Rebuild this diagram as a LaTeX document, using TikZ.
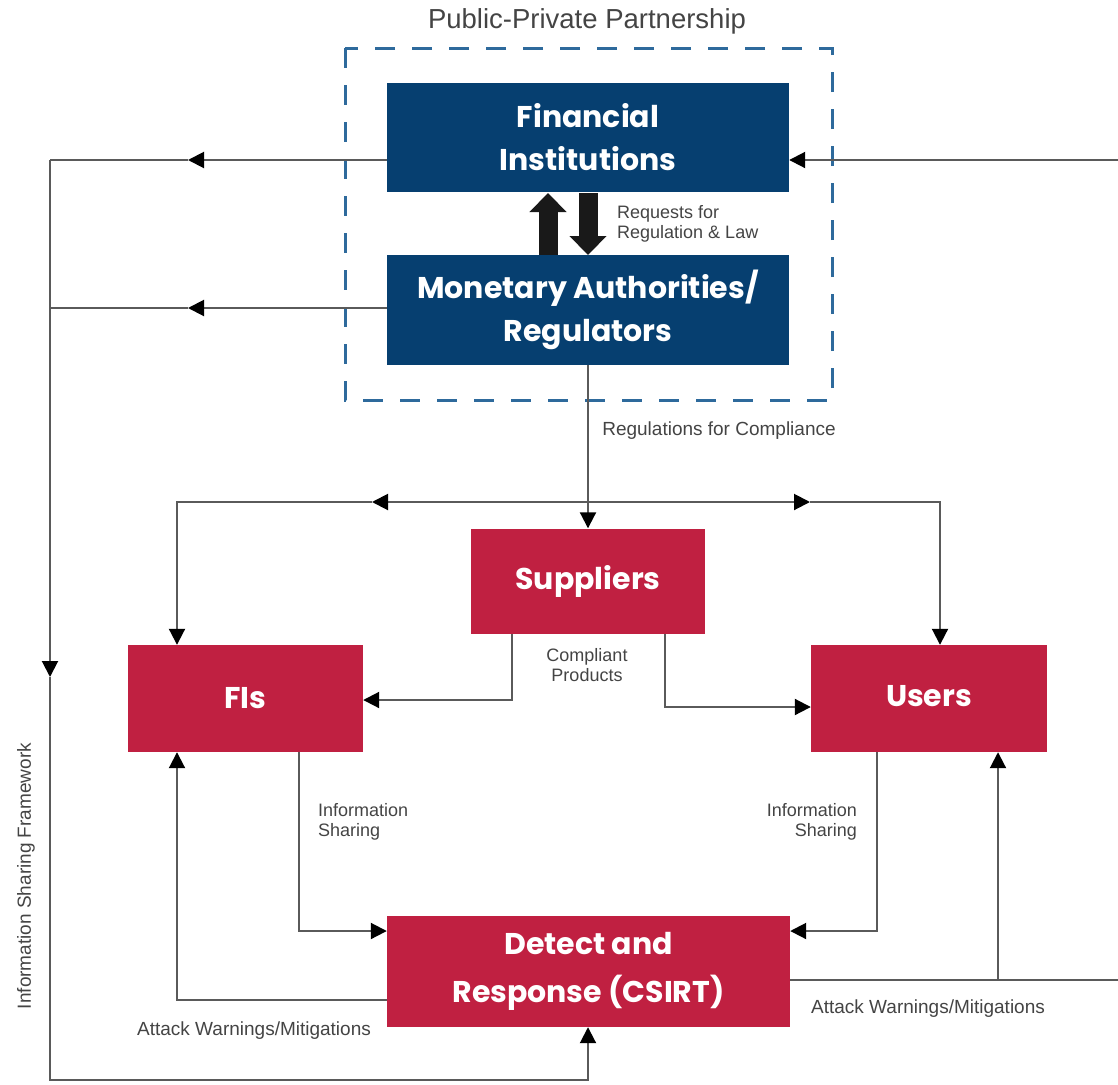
\documentclass[tikz,border=0pt]{standalone}
\usepackage{fontspec}
\setmainfont{Liberation Sans}
\newfontfamily\boxfont{Poppins}
\usetikzlibrary{arrows.meta}
\definecolor{fiblue}{HTML}{063F70}
\definecolor{dashblue}{HTML}{2E6A9C}
\definecolor{boxred}{HTML}{C02041}
\definecolor{linegray}{HTML}{5A5A5A}
\definecolor{txtgray}{HTML}{444444}
\tikzset{
  bluebox/.style={fill=fiblue, text=white, minimum width=402pt, minimum height=110pt, align=center,
    font=\boxfont\bfseries\fontsize{30}{43}\selectfont, inner sep=0pt},
  redbox/.style={fill=boxred, text=white, align=center, inner sep=0pt,
    font=\boxfont\bfseries\fontsize{30}{48}\selectfont},
  conn/.style={draw=linegray, line width=2pt},
  tip/.style={-{Triangle[length=16pt,width=16pt,color=black]}},
  lbl/.style={text=txtgray, font=\fontsize{19}{22}\selectfont, inner sep=0pt},
  small/.style={font=\fontsize{18}{20}\selectfont},
  blockarrow/.style={line width=19pt, draw=black!90, -{Triangle[length=19pt,width=36pt]}},
}
\begin{document}
\begin{tikzpicture}[x=1pt,y=-1pt]
\useasboundingbox (0,0) rectangle (1118,1084);
% title and dashed PPP box
\node[text=txtgray, font=\fontsize{27.5}{30}\selectfont, inner sep=0pt] (ppp) at (587,21) {Public-Private Partnership};
\draw[dashblue, line width=3pt, dash pattern=on 20pt off 17pt] (345,48) rectangle (832,400);
% boxes
\node[bluebox, minimum height=109pt] (fi) at (588,137.5) {Financial\\Institutions};
\node[bluebox] (ma) at (588,310) {Monetary Authorities/\\Regulators};
\node[redbox, minimum width=234pt, minimum height=105pt] (sup) at (588,581) {\raisebox{6pt}{Suppliers}};
\node[redbox, minimum width=235pt, minimum height=107pt] (fis) at (245.5,698.5) {FIs};
\node[redbox, minimum width=236pt, minimum height=107pt] (users) at (929,698.5) {\raisebox{5pt}{Users}};
\node[redbox, minimum width=403pt, minimum height=111pt] (det) at (588.5,971.5) {Detect and\\Response (CSIRT)};
% block arrows between FI and MA
\draw[blockarrow] (548,255) -- (548,193);
\draw[blockarrow] (588,193) -- (588,255);
\node[lbl, small, anchor=west, align=left] (req) at (617,224) {Requests for\\Regulation \& Law};
% coordinates
\coordinate (lt) at (50,160);
\coordinate (lm) at (50,308);
\coordinate (lb) at (50,1080);
\coordinate (a1) at (188,160);
\coordinate (a2) at (188,308);
\coordinate (a3) at (50,677);
\coordinate (bb) at (588,1080);
\coordinate (rt) at (1118,160);
\coordinate (hl) at (177,502);
\coordinate (hr) at (940,502);
\coordinate (hc) at (588,502);
\coordinate (ha) at (372,502);
\coordinate (hb) at (810,502);
\coordinate (sl) at (512,700);
\coordinate (sr) at (665,707);
\coordinate (il) at (299,931);
\coordinate (ir) at (877,931);
\coordinate (dl) at (177,1000);
\coordinate (dr) at (1118,980);
\coordinate (db) at (998,980);
% left information sharing framework
\draw[conn, tip] (fi.west |- lt) -- (a1);
\draw[conn] (a1) -- (lt);
\draw[conn, tip] (lt) -- (a3);
\draw[conn, tip] (ma.west |- lm) -- (a2);
\draw[conn] (a2) -- (lm);
\draw[conn, tip] (a3) -- (lb) -- (bb) -- (det.south -| bb);
\draw[conn, tip] (rt) -- (fi.east |- rt);
% regulations for compliance
\draw[conn, tip] (ma.south) -- (sup.north);
\node[lbl] (rfc) at (719,431) {Regulations for Compliance};
\draw[conn, tip] (hc) -- (ha);
\draw[conn, tip] (ha) -- (hl) -- (fis.north -| hl);
\draw[conn, tip] (hc) -- (hb);
\draw[conn, tip] (hb) -- (hr) -- (users.north -| hr);
% compliant products
\draw[conn, tip] (sup.south -| sl) -- (sl) -- (fis.east |- sl);
\draw[conn, tip] (sup.south -| sr) -- (sr) -- (users.west |- sr);
\node[lbl, small, align=center] (cp) at (587,665) {Compliant\\Products};
% information sharing
\draw[conn, tip] (fis.south -| il) -- (il) -- (det.west |- il);
\draw[conn, tip] (users.south -| ir) -- (ir) -- (det.east |- ir);
\node[lbl, small, align=left, anchor=west] (isl) at (318,822) {Information\\Sharing};
\node[lbl, small, align=right, anchor=east] (isr) at (857,822) {Information\\Sharing};
% attack warnings
\draw[conn, tip] (det.west |- dl) -- (dl) -- (fis.south -| dl);
\draw[conn] (det.east |- dr) -- (dr);
\draw[conn, tip] (db) -- (users.south -| db);
\node[lbl] (awl) at (254,1031) {Attack Warnings/Mitigations};
\node[lbl] (awr) at (928,1009) {Attack Warnings/Mitigations};
\node[lbl, rotate=90] (isf) at (26,876) {Information Sharing Framework};
\end{tikzpicture}
\end{document}
